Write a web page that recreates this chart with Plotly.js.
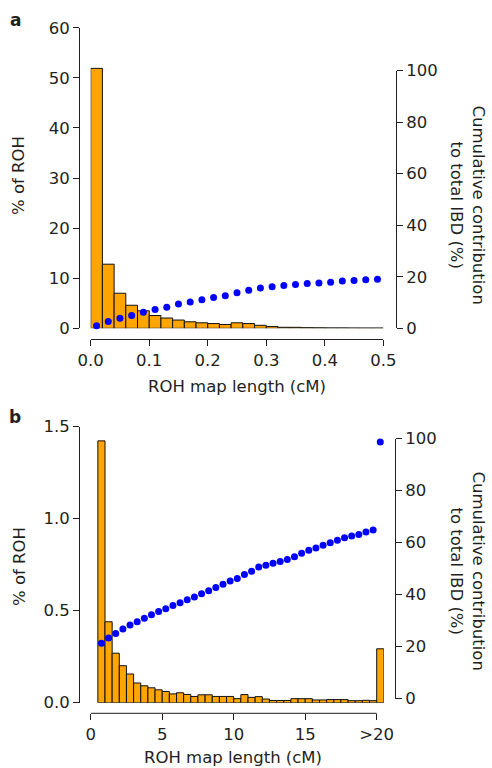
<!DOCTYPE html>
<html>
<head>
<meta charset="utf-8">
<script src="https://cdn.plot.ly/plotly-3.0.1.min.js"></script>
<style>html,body{margin:0;padding:0;background:#fff;}#chart{width:492px;height:768px;}</style>
</head>
<body>
<div id="chart"></div>
<script>
// ---------- Panel a data ----------
const binCentersA = [0.01,0.03,0.05,0.07,0.09,0.11,0.13,0.15,0.17,0.19,0.21,0.23,0.25,0.27,0.29,0.31,0.33,0.35,0.37,0.39,0.41,0.43,0.45,0.47,0.49];
const pctRohA = [51.9,12.8,7.0,4.6,3.5,2.55,2.05,1.65,1.3,1.1,0.95,0.75,1.1,0.95,0.6,0.35,0.2,0.2,0.12,0.1,0.08,0.08,0.06,0.05,0.05];
const cumIbdA = [1.0,2.6,3.9,5.0,6.2,7.3,8.2,9.4,10.2,11.1,11.9,12.6,13.8,14.8,15.6,16.1,16.6,17.0,17.4,17.6,17.9,18.3,18.5,18.8,19.0];
const xTicksA = [0,0.1,0.2,0.3,0.4,0.5];
const yTicksA = [0,10,20,30,40,50,60];

// ---------- Panel b data ----------
const binCentersB = [0.75,1.25,1.75,2.25,2.75,3.25,3.75,4.25,4.75,5.25,5.75,6.25,6.75,7.25,7.75,8.25,8.75,9.25,9.75,10.25,10.75,11.25,11.75,12.25,12.75,13.25,13.75,14.25,14.75,15.25,15.75,16.25,16.75,17.25,17.75,18.25,18.75,19.25,19.75,20.25];
const pctRohB = [1.423,0.44,0.269,0.201,0.156,0.107,0.092,0.081,0.070,0.061,0.048,0.054,0.045,0.034,0.043,0.043,0.034,0.034,0.034,0.022,0.044,0.029,0.033,0.020,0.012,0.012,0.012,0.022,0.022,0.022,0.015,0.015,0.017,0.017,0.017,0.011,0.011,0.013,0.011,0.293];
const cumIbdB = [21.3,23.3,25.1,26.8,28.3,29.6,30.9,32.3,33.5,34.6,35.8,36.9,38.1,39.1,40.4,41.5,42.8,44.0,45.3,46.2,47.8,49.0,50.7,51.3,52.1,52.8,53.5,54.6,55.9,57.1,58.0,59.0,60.0,60.9,61.9,62.6,63.2,64.1,64.9,98.7];
const xTicksB = [0,5,10,15,20];
const xTickTextB = ['0','5','10','15','>20'];
const yTicksB = [0,0.5,1.0,1.5];
const yTicksIbd = [0,20,40,60,80,100];

const binWidthA = 0.02, binWidthB = 0.5;

// ---------- layout helpers (pixel -> paper) ----------
const W = 492, H = 768;
const fx = p => p / W;
const fy = p => 1 - p / H;

const INK = '#231f20';
const FONT = 'DejaVu Sans, Open Sans, sans-serif';
const tickFont = {family: FONT, size: 16.5, color: INK};
const TITLE = 16.5;

function axisBase(extra) {
  return Object.assign({
    showgrid: false, zeroline: false, showline: true,
    linecolor: INK, linewidth: 1,
    ticks: 'outside', ticklen: 6, tickwidth: 1, tickcolor: INK,
    tickfont: tickFont, anchor: 'free', fixedrange: true
  }, extra);
}

const barStyle = {color: '#FFA500', line: {color: '#111', width: 1}};
const dotStyle = {color: '#0000FF', size: 7, line: {width: 0}};

const traces = [
  {type: 'bar', x: binCentersA, y: pctRohA, width: binCentersA.map(() => binWidthA),
   xaxis: 'x', yaxis: 'y', marker: barStyle, hoverinfo: 'skip'},
  {type: 'scatter', mode: 'markers', x: binCentersA, y: cumIbdA,
   xaxis: 'x', yaxis: 'y2', marker: dotStyle, cliponaxis: false, hoverinfo: 'skip'},
  {type: 'bar', x: binCentersB, y: pctRohB, width: binCentersB.map(() => binWidthB),
   xaxis: 'x3', yaxis: 'y3', marker: barStyle, hoverinfo: 'skip'},
  {type: 'scatter', mode: 'markers', x: binCentersB, y: cumIbdB,
   xaxis: 'x3', yaxis: 'y4', marker: dotStyle, cliponaxis: false, hoverinfo: 'skip'}
];

const pxPerCmB = 14.3;
const layout = {
  width: W, height: H,
  margin: {l: 0, r: 0, t: 0, b: 0, pad: 0},
  paper_bgcolor: '#fff', plot_bgcolor: 'rgba(0,0,0,0)',
  showlegend: false, bargap: 0,
  font: {family: FONT, color: INK},
  xaxis: axisBase({domain: [fx(90.7), fx(383.3)], range: [0, 0.5], position: fy(339.3),
    tickvals: xTicksA, tickformat: '.1f'}),
  yaxis: axisBase({domain: [fy(328.3), fy(27.8)], range: [0, 60], position: fx(79),
    tickvals: yTicksA}),
  yaxis2: axisBase({domain: [fy(328.3), fy(70.5)], range: [0, 100], position: fx(396),
    side: 'right', tickvals: yTicksIbd}),
  xaxis3: axisBase({domain: [fx(90.7), fx(90.7 + 20.5 * pxPerCmB)], range: [0, 20.5], position: fy(713.3),
    showline: false, tickvals: xTicksB, ticktext: xTickTextB}),
  yaxis3: axisBase({domain: [fy(702.7), fy(426.7)], range: [0, 1.5], position: fx(79),
    tickvals: yTicksB, tickformat: '.1f'}),
  yaxis4: axisBase({domain: [fy(698.7), fy(438.7)], range: [0, 100], position: fx(395),
    side: 'right', tickvals: yTicksIbd}),
  shapes: [
    {type: 'line', xref: 'x3', yref: 'paper', x0: xTicksB[0], x1: xTicksB[xTicksB.length - 1],
     y0: fy(713.3), y1: fy(713.3), line: {color: INK, width: 1}}
  ],
  annotations: [
    {text: '<b>a</b>', x: fx(15), y: fy(20), font: {size: 17}},
    {text: '<b>b</b>', x: fx(15), y: fy(417), font: {size: 17}},
    {text: '% of ROH', x: fx(19), y: fy(176), textangle: -90},
    {text: '% of ROH', x: fx(19), y: fy(567), textangle: -90},
    {text: 'Cumulative contribution<br>to total IBD (%)', x: fx(467.5), y: fy(205), textangle: 90},
    {text: 'Cumulative contribution<br>to total IBD (%)', x: fx(467.5), y: fy(571), textangle: 90},
    {text: 'ROH map length (cM)', x: fx(237), y: fy(386)},
    {text: 'ROH map length (cM)', x: fx(233), y: fy(757)}
  ].map(a => Object.assign({xref: 'paper', yref: 'paper', showarrow: false,
    xanchor: 'center', yanchor: 'middle'}, a,
    {font: Object.assign({family: FONT, color: INK, size: TITLE}, a.font || {})}))
};

Plotly.newPlot('chart', traces, layout, {staticPlot: true, displayModeBar: false});
</script>
</body>
</html>
